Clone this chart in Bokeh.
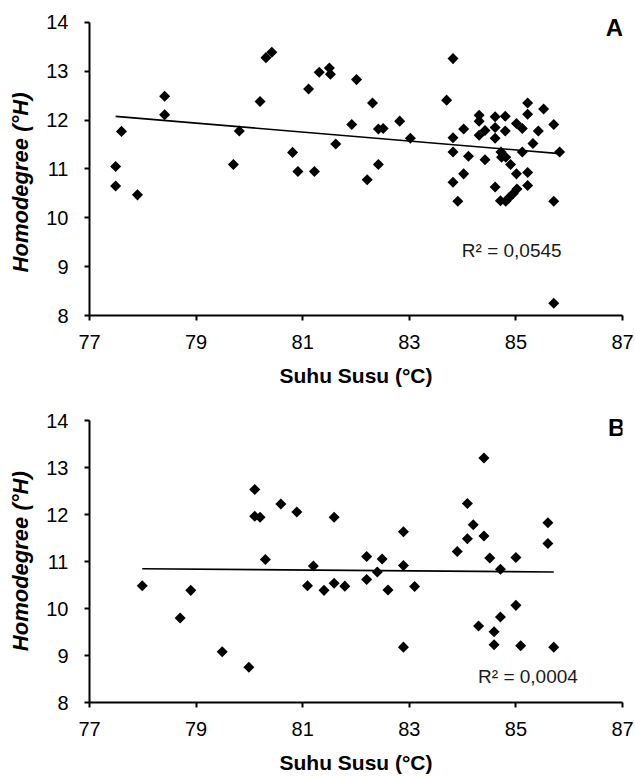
import math
import numpy as np
from bokeh.plotting import figure
from bokeh.models import Label, FixedTicker, Range1d
from bokeh.layouts import column
from bokeh.embed import file_html
from bokeh.resources import INLINE

# ---- data ----
suhu_a = [77.49, 77.49, 77.60, 77.90, 78.41, 78.41, 79.70, 79.81, 80.20, 80.31,
          80.42, 80.81, 80.91, 81.11, 81.22, 81.31, 81.50, 81.52, 81.62, 81.92,
          82.01, 82.31, 82.42, 82.51, 82.42, 82.21, 82.82, 83.02, 83.70, 83.82,
          83.82, 83.82, 83.82, 83.91, 84.02, 84.02, 84.11, 84.31, 84.31, 84.31,
          84.42, 84.42, 84.61, 84.61, 84.61, 84.61, 84.71, 84.72, 84.80, 84.80,
          84.73, 84.81, 84.81, 84.90, 84.87, 84.95, 85.02, 85.01, 85.01, 85.12,
          85.12, 85.22, 85.22, 85.22, 85.22, 85.32, 85.42, 85.52, 85.71, 85.71,
          85.82, 85.71]
homo_a = [11.05, 10.65, 11.77, 10.47, 12.49, 12.11, 11.09, 11.78, 12.38, 13.28,
          13.39, 11.34, 10.95, 12.64, 10.95, 12.98, 13.07, 12.94, 11.51, 11.91,
          12.83, 12.35, 11.82, 11.83, 11.09, 10.78, 11.98, 11.63, 12.41, 13.26,
          11.64, 11.35, 10.73, 10.34, 11.82, 10.90, 11.26, 12.10, 11.98, 11.69,
          11.79, 11.19, 12.07, 11.85, 11.63, 10.63, 10.35, 11.35, 12.08, 11.78,
          11.24, 11.24, 10.34, 11.09, 10.41, 10.50, 10.59, 10.90, 11.93, 11.35,
          11.83, 12.35, 12.12, 10.93, 10.66, 11.52, 11.78, 12.23, 11.91, 10.34,
          11.35, 8.25]

suhu_b = [77.99, 78.70, 78.90, 79.49, 79.99, 80.10, 80.10, 80.20, 80.30, 80.59,
          80.89, 81.20, 81.09, 81.40, 81.59, 81.59, 81.79, 82.20, 82.20, 82.40,
          82.49, 82.60, 82.89, 82.89, 82.89, 83.10, 83.90, 84.09, 84.09, 84.20,
          84.40, 84.40, 84.51, 84.30, 84.59, 84.59, 84.71, 84.71, 85.00, 85.00,
          85.09, 85.60, 85.60, 85.71]
homo_b = [10.49, 9.80, 10.39, 9.08, 8.75, 12.54, 11.97, 11.95, 11.05, 12.23,
          12.06, 10.91, 10.49, 10.39, 11.95, 10.54, 10.48, 10.62, 11.11, 10.78,
          11.06, 10.40, 11.64, 10.92, 9.18, 10.47, 11.22, 12.24, 11.49, 11.79,
          13.21, 11.55, 11.08, 9.63, 9.51, 9.23, 10.84, 9.82, 11.09, 10.07,
          9.21, 11.83, 11.39, 9.18]

x_ticks = [77, 79, 81, 83, 85, 87]
y_ticks = [8, 9, 10, 11, 12, 13, 14]
x_title = "Suhu Susu (°C)"
y_title = "Homodegree (°H)"
r2_a = "R² = 0,0545"
r2_b = "R² = 0,0004"

FONT = "Liberation Sans"


def panel(xs, ys, letter, r2, height, y_end, b_left, b_right, b_bottom,
          letter_xy, r2_xy, ytitle_pad):
    p = figure(width=635, height=height, output_backend="svg",
               toolbar_location=None, x_range=Range1d(77, 87),
               y_range=Range1d(8, y_end),
               min_border_left=b_left, min_border_right=b_right,
               min_border_top=0, min_border_bottom=b_bottom)
    p.outline_line_color = None
    p.grid.visible = False
    for ax in (p.xaxis[0], p.yaxis[0]):
        ax.axis_line_width = 2
        ax.axis_line_color = "black"
        ax.major_tick_line_width = 2
        ax.major_tick_line_color = "black"
        ax.major_tick_out = 5
        ax.major_tick_in = 0
        ax.minor_tick_line_color = None
        ax.major_label_text_font = FONT
        ax.major_label_text_font_size = "20px"
        ax.major_label_text_color = "black"
        ax.axis_label_text_font = FONT
        ax.axis_label_text_color = "black"
    p.xaxis[0].ticker = FixedTicker(ticks=x_ticks)
    p.yaxis[0].ticker = FixedTicker(ticks=y_ticks)
    p.yaxis[0].bounds = (y_ticks[0], y_ticks[-1])
    p.xaxis[0].major_label_standoff = 14
    p.yaxis[0].major_label_standoff = 16
    p.xaxis[0].axis_label = x_title
    p.xaxis[0].axis_label_text_font_style = "bold"
    p.xaxis[0].axis_label_text_font_size = "21px"
    p.xaxis[0].axis_label_standoff = 12
    p.yaxis[0].axis_label = y_title + "\u00a0" * ytitle_pad
    p.yaxis[0].axis_label_text_font_style = "bold italic"
    p.yaxis[0].axis_label_text_font_size = "22px"
    p.yaxis[0].axis_label_standoff = 10

    xa = np.array(xs)
    ya = np.array(ys)
    k, c = np.polyfit(xa, ya, 1)
    lx = np.array([xa.min(), xa.max()])
    p.line(lx, k * lx + c, line_color="black", line_width=1.6)

    p.scatter(xs, ys, marker="square", angle=math.pi / 4, size=7.8,
              fill_color="black", line_color=None)

    p.add_layout(Label(x=letter_xy[0], y=letter_xy[1], text=letter,
                       text_font=FONT, text_font_style="bold",
                       text_font_size="24px", text_align="center",
                       text_baseline="middle", text_color="black"))
    p.add_layout(Label(x=r2_xy[0], y=r2_xy[1], text=r2, text_font=FONT,
                       text_font_size="19px", text_align="left",
                       text_baseline="middle", text_color="#1a1a1a"))
    return p


pa = panel(suhu_a, homo_a, "A", r2_a, 395, 14.45, 87, 13, 80,
           (86.85, 13.887), (83.985, 9.326), 8)
pb = panel(suhu_b, homo_b, "B", r2_b, 381, 14.543, 89, 12, 68,
           (86.89, 13.864), (84.29, 8.55), 4)

layout = column(pa, pb, spacing=0)
open("out.html", "w").write(file_html(layout, INLINE))
